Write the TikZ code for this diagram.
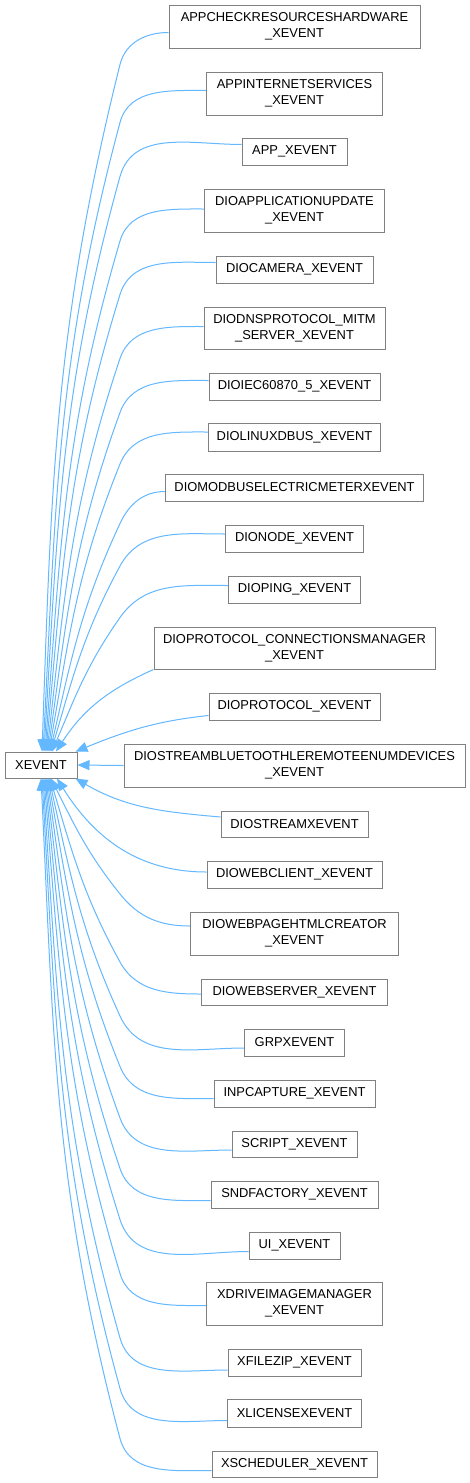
\documentclass[tikz,border=0pt]{standalone}
\usepackage{fontspec}
\setmainfont{Liberation Sans}
\usetikzlibrary{arrows.meta}
\definecolor{boxgray}{HTML}{808080}
\definecolor{edgeblue}{HTML}{63B8FF}
\tikzset{
  box/.style={draw=boxgray, line width=1pt, fill=white, inner sep=0pt, align=center,
    font=\fontsize{12.9}{16}\selectfont},
  wh/.style 2 args={box, minimum width=#1, minimum height=#2},
  edge/.style={draw=edgeblue, line width=1pt, -{Triangle[length=12pt,width=10pt,fill=edgeblue]}}
}
\begin{document}
\begin{tikzpicture}[x=1pt,y=1pt]
\fill[white] (0,0) rectangle (470,-1483);
\useasboundingbox (0,0) rectangle (470,-1483);

\node[wh={72pt}{26pt}] (xe) at (41,-765) {XEVENT};

\node[wh={251pt}{43pt}] (c1) at (294.5,-26.5) {APPCHECKRESOURCESHARDWARE\\\_XEVENT};
\node[wh={176pt}{43pt}] (c2) at (294.5,-93.5) {APPINTERNETSERVICES\\\_XEVENT};
\node[wh={105pt}{27pt}] (c3) at (294.5,-151.5) {APP\_XEVENT};
\node[wh={180pt}{43pt}] (c4) at (294.5,-210.5) {DIOAPPLICATIONUPDATE\\\_XEVENT};
\node[wh={157pt}{27pt}] (c5) at (294.5,-269.5) {DIOCAMERA\_XEVENT};
\node[wh={181pt}{42pt}] (c6) at (294.5,-328) {DIODNSPROTOCOL\_MITM\\\_SERVER\_XEVENT};
\node[wh={171pt}{27pt}] (c7) at (294.5,-386.5) {DIOIEC60870\_5\_XEVENT};
\node[wh={172pt}{28pt}] (c8) at (294.5,-437) {DIOLINUXDBUS\_XEVENT};
\node[wh={258pt}{27pt}] (c9) at (294.5,-487.5) {DIOMODBUSELECTRICMETERXEVENT};
\node[wh={138pt}{27pt}] (c10) at (294.5,-538.5) {DIONODE\_XEVENT};
\node[wh={132pt}{27pt}] (c11) at (294.5,-589.5) {DIOPING\_XEVENT};
\node[wh={281pt}{42pt}] (c12) at (294.5,-648) {DIOPROTOCOL\_CONNECTIONSMANAGER\\\_XEVENT};
\node[wh={171pt}{27pt}] (c13) at (294.5,-706.5) {DIOPROTOCOL\_XEVENT};
\node[wh={341pt}{43pt}] (c14) at (294.5,-765.5) {DIOSTREAMBLUETOOTHLEREMOTEENUMDEVICES\\\_XEVENT};
\node[wh={147pt}{26pt}] (c15) at (294.5,-824) {DIOSTREAMXEVENT};
\node[wh={175pt}{27pt}] (c16) at (294.5,-874.5) {DIOWEBCLIENT\_XEVENT};
\node[wh={208pt}{43pt}] (c17) at (294.5,-933.5) {DIOWEBPAGEHTMLCREATOR\\\_XEVENT};
\node[wh={186pt}{26pt}] (c18) at (294.5,-992) {DIOWEBSERVER\_XEVENT};
\node[wh={100pt}{27pt}] (c19) at (294.5,-1042.5) {GRPXEVENT};
\node[wh={161pt}{27pt}] (c20) at (294.5,-1093.5) {INPCAPTURE\_XEVENT};
\node[wh={125pt}{26pt}] (c21) at (294.5,-1144) {SCRIPT\_XEVENT};
\node[wh={167pt}{27pt}] (c22) at (294.5,-1194.5) {SNDFACTORY\_XEVENT};
\node[wh={91pt}{27pt}] (c23) at (294.5,-1245.5) {UI\_XEVENT};
\node[wh={176pt}{43pt}] (c24) at (294.5,-1303.5) {XDRIVEIMAGEMANAGER\\\_XEVENT};
\node[wh={133pt}{27pt}] (c25) at (294.5,-1362.5) {XFILEZIP\_XEVENT};
\node[wh={134pt}{28pt}] (c26) at (294.5,-1413) {XLICENSEXEVENT};
\node[wh={165pt}{26pt}] (c27) at (294.5,-1464) {XSCHEDULER\_XEVENT};

% upper group
\draw[edge] ([yshift=-6pt]c1.west) to[out=180,in=76] (120,-64.5) to[out=256,in=88] ([xshift=1pt]xe.north);
\draw[edge] ([yshift=3pt]c2.west) to[out=180,in=75] (120,-122.5) to[out=255,in=87] ([xshift=2pt]xe.north);
\draw[edge] ([yshift=7pt]c3.west) to[out=180,in=74.5] (120,-176.5) to[out=254.5,in=86.5] ([xshift=3pt]xe.north);
\draw[edge] ([yshift=1.5pt]c4.west) to[out=180,in=73.6] (120,-241) to[out=253.6,in=85.6] ([xshift=4pt]xe.north);
\draw[edge] ([yshift=7pt]c5.west) to[out=180,in=72.8] (120,-294.5) to[out=252.8,in=84.8] ([xshift=5pt]xe.north);
\draw[edge] ([yshift=1.5pt]c6.west) to[out=180,in=71.5] (120,-358.5) to[out=251.5,in=83.5] ([xshift=6pt]xe.north);
\draw[edge] ([yshift=6pt]c7.west) to[out=180,in=70] (120,-412.5) to[out=250,in=82] ([xshift=7pt]xe.north);
\draw[edge] ([yshift=5pt]c8.west) to[out=180,in=68] (120,-464) to[out=248,in=80] ([xshift=8pt]xe.north);
\draw[edge] ([yshift=-4pt]c9.west) to[out=180,in=65] (120,-523.5) to[out=245,in=77] ([xshift=9pt]xe.north);
\draw[edge] ([yshift=4.5pt]c10.west) to[out=180,in=61.6] (120,-566) to[out=241.6,in=73.6] ([xshift=10pt]xe.north);
\draw[edge] ([yshift=4pt]c11.west) to[out=180,in=55] (120,-617.5) to[out=235,in=67] ([xshift=11pt]xe.north);
\draw[edge] (c12.south west) to[out=204,in=57] ([xshift=15pt]xe.north);
\draw[edge] ([yshift=-9pt]c13.west) to[out=186,in=22] ([xshift=-2pt]xe.north east);

% middle
\draw[edge] (c14.west) -- (xe.east);

% lower group
\draw[edge] ([yshift=7pt]c15.west) to[out=175,in=-30] ([xshift=-2pt]xe.south east);
\draw[edge] ([yshift=2.5pt]c16.west) to[out=180,in=-58] ([xshift=16pt]xe.south);
\draw[edge] ([yshift=7.5pt]c17.west) to[out=180,in=-51.3] (120,-894) to[out=128.7,in=-63.3] ([xshift=10pt]xe.south);
\draw[edge] ([yshift=-2pt]c18.west) to[out=180,in=-61.2] (120,-962) to[out=118.8,in=-73.2] ([xshift=9pt]xe.south);
\draw[edge] ([yshift=-5.5pt]c19.west) to[out=180,in=-65.4] (120,-1016) to[out=114.6,in=-77.4] ([xshift=8pt]xe.south);
\draw[edge] ([yshift=-5pt]c20.west) to[out=180,in=-68] (120,-1066.5) to[out=112,in=-80] ([xshift=7pt]xe.south);
\draw[edge] ([yshift=-6pt]c21.west) to[out=180,in=-69.9] (120,-1118) to[out=110.1,in=-81.9] ([xshift=6pt]xe.south);
\draw[edge] ([yshift=-6pt]c22.west) to[out=180,in=-71.3] (120,-1168.5) to[out=108.7,in=-83.3] ([xshift=5pt]xe.south);
\draw[edge] ([yshift=-6pt]c23.west) to[out=180,in=-72.4] (120,-1219.5) to[out=107.6,in=-84.4] ([xshift=4pt]xe.south);
\draw[edge] ([yshift=-2pt]c24.west) to[out=180,in=-73.3] (120,-1273.5) to[out=106.7,in=-85.3] ([xshift=3pt]xe.south);
\draw[edge] ([yshift=-7.5pt]c25.west) to[out=180,in=-74.2] (120,-1338) to[out=105.8,in=-86.2] ([xshift=2pt]xe.south);
\draw[edge] ([yshift=-7.5pt]c26.west) to[out=180,in=-74.7] (120,-1388.5) to[out=105.3,in=-86.7] ([xshift=1pt]xe.south);
\draw[edge] ([yshift=-6.5pt]c27.west) to[out=180,in=-75.2] (120,-1438.5) to[out=104.8,in=-87.2] (xe.south);
\end{tikzpicture}
\end{document}
